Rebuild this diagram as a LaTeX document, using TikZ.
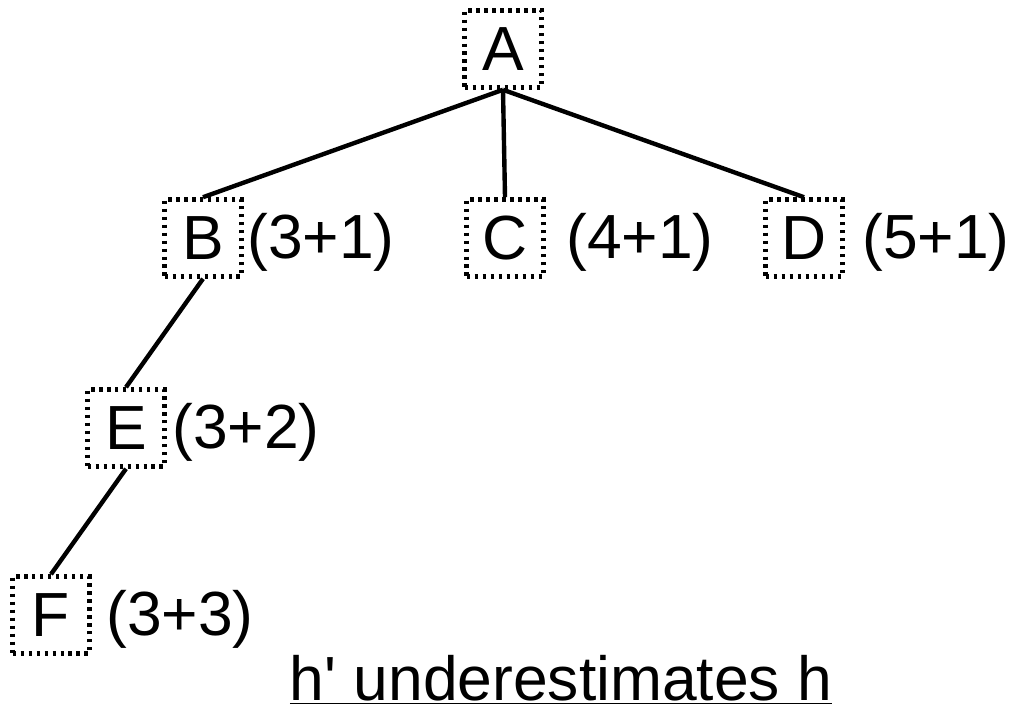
\documentclass[tikz,border=0pt]{standalone}
\usepackage{fontspec}
\setmainfont{Liberation Sans}
\usetikzlibrary{positioning}

\begin{document}
\begin{tikzpicture}[
  x=0.02cm, y=-0.02cm,
  state/.style={draw, line width=2.6pt, dash pattern=on 0.07cm off 0.09cm, minimum size=1.54cm, inner sep=0pt, font=\fontsize{35.5}{42}\selectfont},
  cost/.style={anchor=west, inner sep=0pt, font=\fontsize{35.5}{42}\selectfont},
  edge/.style={line width=2.5pt}
]
\useasboundingbox (0,0) rectangle (1016,712);

% Nodes
\node[state] (A) at (503,49) {A};
\node[state] (B) at (203,238) {B};
\node[state] (C) at (505,238) {C};
\node[state] (D) at (804,238) {D};
\node[state] (E) at (126,428) {E};
\node[state] (F) at (51,615) {F};

% Costs
\node[cost] (costB) at (247,242) {(3+1)};
\node[cost] (costC) at (566,242) {(4+1)};
\node[cost] (costD) at (862,242) {(5+1)};
\node[cost] (costE) at (172,432) {(3+2)};
\node[cost] (costF) at (106,619) {(3+3)};

% Tree edges
\draw[edge] (A.south) -- (B.north);
\draw[edge] (A.south) -- (C.north);
\draw[edge] (A.south) -- (D.north);
\draw[edge] (B.south) -- (E.north);
\draw[edge] (E.south) -- (F.north);

\node[anchor=base, inner sep=0pt, font=\fontsize{35.5}{42}\selectfont] (note) at (561,700) {\underline{h\textquotesingle{} underestimates h}};

\end{tikzpicture}
\end{document}
